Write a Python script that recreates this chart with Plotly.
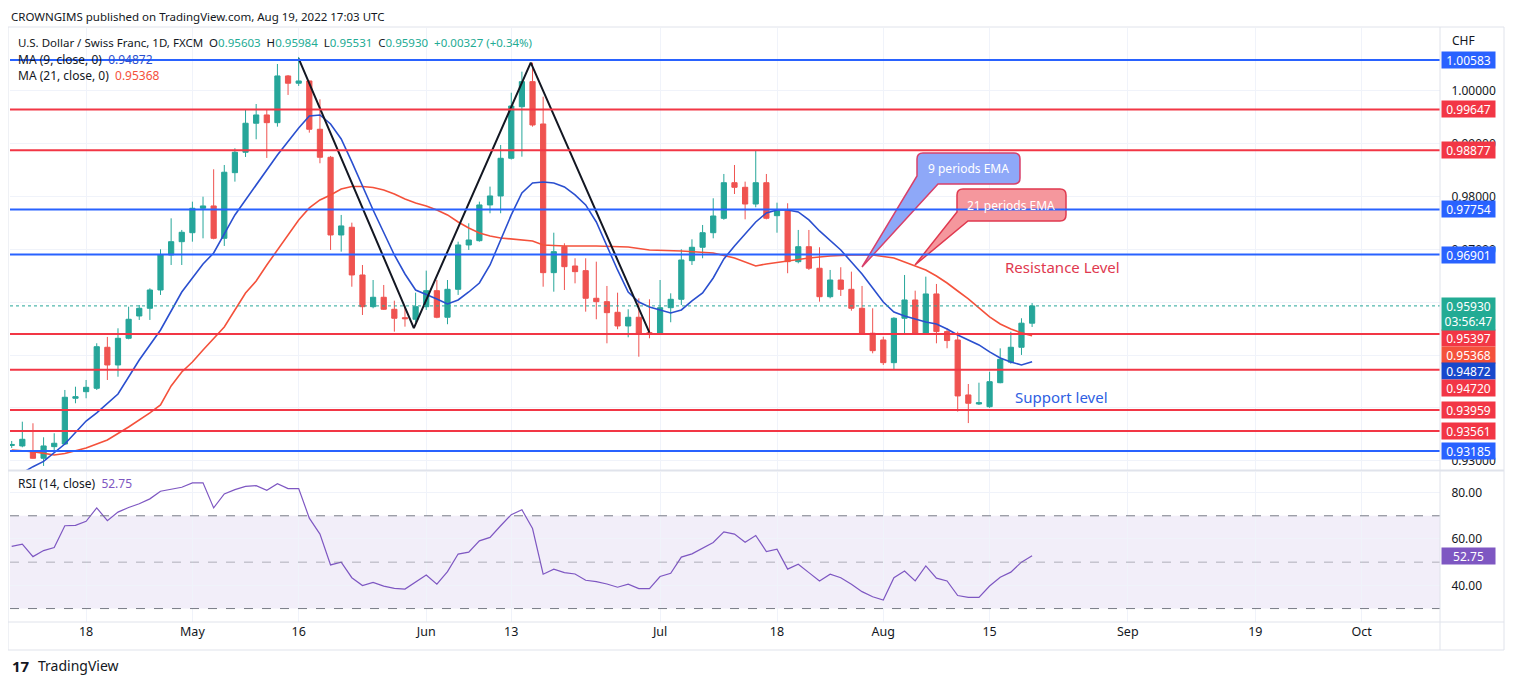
import pandas as pd
import plotly.graph_objects as go

# daily USDCHF candles, Apr 7 - Aug 19 2022 (weekdays)
dates = pd.bdate_range("2022-04-07", "2022-08-19")
open_ = [0.93289, 0.93280, 0.93172, 0.93047, 0.93267, 0.93317, 0.94182, 0.94307, 0.94371, 0.95147,
         0.94812, 0.95317, 0.95739, 0.95885, 0.96231, 0.96893, 0.97145, 0.97315, 0.97777, 0.97821,
         0.97209, 0.98451, 0.98837, 0.99386, 0.99543, 0.99397, 1.00281, 1.00143, 1.00186, 0.99272,
         0.98742, 0.97272, 0.97418, 0.96515, 0.95915, 0.96093, 0.95866, 0.95707, 0.95677, 0.95915,
         0.96218, 0.95715, 0.96244, 0.97083, 0.97164, 0.97840, 0.98010, 0.98723, 0.99699, 1.00173,
         0.99372, 0.96559, 0.97050, 0.96685, 0.96597, 0.96074, 0.96010, 0.95809, 0.95550, 0.95715,
         0.95424, 0.95413, 0.95896, 0.96055, 0.96786, 0.97039, 0.97315, 0.97587, 0.98261, 0.98174,
         0.97858, 0.98261, 0.97637, 0.97726, 0.96767, 0.97050, 0.96642, 0.96104, 0.96420, 0.96244,
         0.95885, 0.95413, 0.95285, 0.94856, 0.95696, 0.96042, 0.95413, 0.96156, 0.95444, 0.95285,
         0.94245, 0.94074, 0.94023, 0.94477, 0.94866, 0.95147, 0.95603]
high = [0.93374, 0.93739, 0.93709, 0.93444, 0.93520, 0.94339, 0.94401, 0.94528, 0.95223, 0.95343,
        0.95506, 0.95915, 0.95947, 0.96263, 0.97001, 0.97587, 0.97367, 0.97902, 0.97996, 0.98515,
        0.98596, 0.98912, 0.99637, 0.99750, 0.99637, 1.00507, 1.00299, 1.00640, 1.00192, 0.99839,
        0.98767, 0.97651, 0.97505, 0.96704, 0.96420, 0.96326, 0.96029, 0.95915, 0.96180, 0.96597,
        0.96420, 0.96420, 0.97145, 0.97493, 0.97902, 0.98187, 0.98975, 0.99964, 1.00362, 1.00532,
        0.99888, 0.97315, 0.97114, 0.96831, 0.96831, 0.96767, 0.96307, 0.96180, 0.95866, 0.96074,
        0.96055, 0.96420, 0.96168, 0.97001, 0.97190, 0.97461, 0.97966, 0.98426, 0.98596, 0.98281,
        0.98877, 0.98426, 0.97883, 0.97872, 0.97367, 0.97367, 0.97039, 0.96610, 0.96661, 0.96578,
        0.96307, 0.95885, 0.95348, 0.95715, 0.96515, 0.96218, 0.96483, 0.96345, 0.95507, 0.95442,
        0.94452, 0.94477, 0.94685, 0.95127, 0.95442, 0.95696, 0.95984]
low = [0.93242, 0.93255, 0.93040, 0.92902, 0.93204, 0.93299, 0.94088, 0.94182, 0.94339, 0.94528,
       0.94590, 0.95298, 0.95664, 0.95664, 0.96137, 0.96704, 0.96704, 0.97145, 0.97209, 0.97190,
       0.97064, 0.98281, 0.98748, 0.99083, 0.98729, 0.99321, 0.99921, 1.00092, 0.99208, 0.98629,
       0.96988, 0.96956, 0.96293, 0.95758, 0.95885, 0.95853, 0.95443, 0.95537, 0.95620, 0.95853,
       0.95696, 0.95583, 0.96137, 0.96988, 0.97145, 0.97683, 0.97683, 0.98700, 0.98753, 0.99321,
       0.96293, 0.96199, 0.96231, 0.96357, 0.95821, 0.95677, 0.95222, 0.95488, 0.95336, 0.94969,
       0.95317, 0.95400, 0.95620, 0.95947, 0.96704, 0.96831, 0.97209, 0.97560, 0.98047, 0.97568,
       0.97796, 0.97568, 0.97315, 0.96548, 0.96736, 0.96610, 0.96010, 0.96074, 0.96118, 0.95839,
       0.95400, 0.95033, 0.94812, 0.94717, 0.95413, 0.95400, 0.95381, 0.95222, 0.95128, 0.93930,
       0.93713, 0.94055, 0.94000, 0.94466, 0.94834, 0.95002, 0.95531]
close = [0.93308, 0.93406, 0.93047, 0.93280, 0.93331, 0.94201, 0.94212, 0.94390, 0.95158, 0.94812,
         0.95317, 0.95677, 0.95885, 0.96231, 0.96893, 0.97145, 0.97323, 0.97777, 0.97821, 0.97209,
         0.98459, 0.98837, 0.99386, 0.99543, 0.99397, 1.00281, 1.00143, 1.00186, 0.99272, 0.98742,
         0.97272, 0.97443, 0.96515, 0.95915, 0.96093, 0.95866, 0.95696, 0.95688, 0.95915, 0.96218,
         0.95715, 0.96244, 0.97083, 0.97177, 0.97840, 0.98010, 0.98723, 0.99712, 1.00173, 0.99353,
         0.96559, 0.96956, 0.96672, 0.96578, 0.96074, 0.96010, 0.95802, 0.95550, 0.95715, 0.95413,
         0.95400, 0.95896, 0.96055, 0.96799, 0.97039, 0.97315, 0.97631, 0.98261, 0.98174, 0.97858,
         0.98261, 0.97588, 0.97726, 0.96767, 0.97050, 0.96642, 0.96104, 0.96420, 0.96244, 0.95885,
         0.95413, 0.95083, 0.94856, 0.95696, 0.96042, 0.95413, 0.96156, 0.95444, 0.95274, 0.94226,
         0.94088, 0.94099, 0.94496, 0.94919, 0.95147, 0.95603, 0.95930]

# moving averages (bar index -> value)
ma9_idx = [1, 2, 3, 5, 7, 8, 10, 12, 14, 16, 18, 19, 21, 23, 25, 27, 28, 29, 30, 31,
           32, 34, 36, 37, 38, 40, 41, 42, 43, 44, 45, 46, 47, 48, 49, 50, 51, 52, 53, 54,
           55, 56, 57, 58, 59, 60, 61, 62, 63, 64, 65, 66, 67, 68, 70, 71, 72, 73, 74, 75,
           76, 77, 78, 79, 80, 81, 82, 83, 84, 85, 86, 87, 88, 89, 90, 91, 92, 93, 94, 95, 96]
ma9_val = [0.92770, 0.92888, 0.92987, 0.93317, 0.93752, 0.93904, 0.94263, 0.94906, 0.95474, 0.96193,
           0.96723, 0.96931, 0.97651, 0.98218, 0.98786, 0.99297, 0.99523, 0.99542, 0.99372, 0.99089,
           0.98654, 0.97745, 0.96893, 0.96534, 0.96231, 0.96061, 0.95966, 0.96042, 0.96193, 0.96363,
           0.96704, 0.97177, 0.97651, 0.98067, 0.98256, 0.98275, 0.98256, 0.98180, 0.98029, 0.97840,
           0.97518, 0.97064, 0.96610, 0.96193, 0.96004, 0.95909, 0.95853, 0.95796, 0.95853, 0.96023,
           0.96174, 0.96458, 0.96818, 0.97064, 0.97518, 0.97688, 0.97745, 0.97745, 0.97707, 0.97556,
           0.97348, 0.97177, 0.96988, 0.96761, 0.96534, 0.96269, 0.96004, 0.95815, 0.95739, 0.95683,
           0.95626, 0.95588, 0.95494, 0.95380, 0.95285, 0.95191, 0.95059, 0.94945, 0.94870, 0.94812,
           0.94872]
ma21_idx = [0, 2, 4, 5, 7, 9, 11, 13, 14, 15, 16, 17, 18, 20, 22, 23, 24, 25, 26, 27,
            28, 29, 30, 31, 32, 33, 34, 35, 36, 37, 38, 39, 40, 41, 42, 43, 44, 45, 46, 47,
            48, 49, 50, 52, 55, 58, 60, 63, 66, 68, 70, 71, 73, 75, 77, 79, 81, 83, 84, 85,
            86, 87, 88, 89, 90, 91, 92, 93, 94, 95, 96]
ma21_val = [0.93204, 0.93172, 0.93109, 0.93138, 0.93242, 0.93393, 0.93639, 0.93904, 0.94055, 0.94415,
            0.94679, 0.94868, 0.95096, 0.95531, 0.96174, 0.96401, 0.96704, 0.96988, 0.97272, 0.97556,
            0.97783, 0.97934, 0.98029, 0.98143, 0.98190, 0.98190, 0.98171, 0.98124, 0.98048, 0.97953,
            0.97878, 0.97821, 0.97745, 0.97651, 0.97518, 0.97405, 0.97310, 0.97253, 0.97215, 0.97196,
            0.97177, 0.97158, 0.97083, 0.97064, 0.97064, 0.97045, 0.96988, 0.96969, 0.96931, 0.96837,
            0.96685, 0.96723, 0.96780, 0.96837, 0.96874, 0.96893, 0.96893, 0.96837, 0.96761, 0.96685,
            0.96610, 0.96496, 0.96363, 0.96212, 0.96061, 0.95891, 0.95721, 0.95588, 0.95494, 0.95419,
            0.95368]

rsi = [56.8, 57.8, 52.4, 55.0, 56.3, 65.7, 65.9, 67.6, 73.4, 67.9,
       71.6, 73.6, 75.2, 77.3, 80.6, 81.6, 82.3, 84.2, 84.2, 73.4,
       79.4, 81.3, 82.7, 83.0, 81.0, 83.8, 81.7, 81.7, 69.0, 62.1,
       48.8, 50.0, 43.3, 39.9, 41.3, 39.7, 38.7, 38.4, 41.3, 44.5,
       40.5, 45.9, 53.5, 54.3, 59.2, 60.7, 65.7, 70.5, 72.6, 64.5,
       44.8, 47.0, 45.5, 44.9, 42.2, 41.6, 40.6, 39.2, 40.5, 38.6,
       38.6, 43.8, 45.2, 52.2, 53.6, 56.0, 58.5, 63.1, 62.1, 58.6,
       61.5, 54.6, 55.6, 47.0, 49.1, 45.5, 41.9, 44.8, 43.3, 40.5,
       37.3, 35.1, 33.7, 43.3, 46.2, 41.9, 48.4, 43.1, 41.9, 35.6,
       34.8, 34.8, 39.7, 43.5, 45.7, 50.0, 52.75]

# double top drawing
pattern_x = ["2022-05-16", "2022-05-30 20:00", "2022-06-14 20:00", "2022-06-30"]
pattern_y = [1.00610, 0.95511, 1.00532, 0.95424]

blue_levels = [1.00583, 0.97754, 0.96901, 0.93185]
red_levels = [0.99647, 0.98877, 0.95397, 0.94720, 0.93959, 0.93561]

tick_dates = ["2022-04-18", "2022-05-02", "2022-05-16", "2022-06-01", "2022-06-13", "2022-07-01",
              "2022-07-18", "2022-08-01", "2022-08-15", "2022-09-01", "2022-09-19", "2022-10-03"]
tick_text = ["18", "May", "16", "Jun", "13", "Jul", "18", "Aug", "15", "Sep", "19", "Oct"]
price_ticks = [0.93, 0.94, 0.95, 0.96, 0.97, 0.98, 0.99, 1.00]
# labels hidden behind the level tags are left blank
price_tick_text = ["0.93000", "", "", "", "0.97000", "0.98000", "0.99000", "1.00000"]
rsi_ticks = [40, 60, 80]

FONT = "Noto Sans"
TXT = "#131722"
UP = "#26a69a"
DOWN = "#ef5350"
BLUE = "#2962ff"
RED = "#f23645"
MA9_C = "#2a4fcf"
MA21_C = "#f4513b"
RSI_C = "#7e57c2"

# the page body adds an 8px offset, so the figure is drawn 8px smaller
OFF = 8
W, H = 1514 - OFF, 685 - OFF
X0, X1, Y0, Y1 = 10, 1440, 28, 622          # plot area in page pixels
PW, PH = X1 - X0, Y1 - Y0


def px(x):
    return (x - X0) / PW


def py(y):
    return (Y1 - y) / PH


fig = go.Figure()

fig.add_trace(go.Candlestick(
    x=dates, open=open_, high=high, low=low, close=close,
    increasing=dict(line=dict(color=UP, width=1), fillcolor=UP),
    decreasing=dict(line=dict(color=DOWN, width=1), fillcolor=DOWN),
    whiskerwidth=0, hoverinfo="skip", showlegend=False))

fig.add_trace(go.Scatter(x=[dates[i] for i in ma21_idx], y=ma21_val, mode="lines",
                         line=dict(color=MA21_C, width=1.6), hoverinfo="skip", showlegend=False))
fig.add_trace(go.Scatter(x=[dates[i] for i in ma9_idx], y=ma9_val, mode="lines",
                         line=dict(color=MA9_C, width=1.6), hoverinfo="skip", showlegend=False))
fig.add_trace(go.Scatter(x=pattern_x, y=pattern_y, mode="lines",
                         line=dict(color="#131722", width=2), hoverinfo="skip", showlegend=False))

fig.add_trace(go.Scatter(x=dates, y=rsi, mode="lines", yaxis="y2",
                         line=dict(color=RSI_C, width=1.2), hoverinfo="skip", showlegend=False))

shapes = []


def callout(box, base1, tip, base2, r=6):
    x0, y0, x1, y1 = box
    pts = [("M", x0 + r, y0), ("L", x1 - r, y0), ("Q", x1, y0, x1, y0 + r), ("L", x1, y1 - r),
           ("Q", x1, y1, x1 - r, y1), ("L",) + base1, ("L",) + tip, ("L",) + base2,
           ("L", x0, y0 + r), ("Q", x0, y0, x0 + r, y0)]
    out = []
    for p in pts:
        nums = p[1:]
        seg = " ".join(f"{px(nums[k]):.5f},{py(nums[k + 1]):.5f}" for k in range(0, len(nums), 2))
        out.append(f"{p[0]} {seg}")
    return " ".join(out) + " Z"


# callout boxes
shapes.append(dict(type="path", xref="paper", yref="paper", layer="above",
                   path=callout((917, 153, 1020, 184), (938, 184), (862, 267), (917, 176)),
                   fillcolor="#8ea8f8", line=dict(color="#d8406a", width=1.5)))
shapes.append(dict(type="path", xref="paper", yref="paper", layer="above",
                   path=callout((957, 189, 1066, 221), (968, 221), (915, 265), (957, 212)),
                   fillcolor="#f5979d", line=dict(color="#e0394f", width=1.5)))

# horizontal levels
for v in blue_levels:
    shapes.append(dict(type="line", xref="paper", x0=0, x1=1, yref="y", y0=v, y1=v,
                       layer="above", line=dict(color=BLUE, width=2)))
for v in red_levels:
    shapes.append(dict(type="line", xref="paper", x0=0, x1=1, yref="y", y0=v, y1=v,
                       layer="above", line=dict(color=RED, width=2)))

# last price dotted line
shapes.append(dict(type="line", xref="paper", x0=0, x1=1, yref="y", y0=close[-1], y1=close[-1],
                   line=dict(color=UP, width=1, dash="dot")))

# RSI band and levels
shapes.append(dict(type="rect", xref="paper", x0=0, x1=1, yref="y2", y0=30, y1=70,
                   fillcolor="rgba(126,87,194,0.10)", line=dict(width=0), layer="below"))
for v, c in [(70, "#787b86"), (50, "rgba(120,123,134,0.55)"), (30, "#787b86")]:
    shapes.append(dict(type="line", xref="paper", x0=0, x1=1, yref="y2", y0=v, y1=v,
                       line=dict(color=c, width=1, dash="dash")))

# frame
border = "#e0e3eb"
shapes.append(dict(type="rect", xref="paper", yref="paper", x0=px(8), x1=px(1504), y0=py(650), y1=py(27),
                   line=dict(color=border, width=1)))
shapes.append(dict(type="line", xref="paper", yref="paper", x0=px(1440), x1=px(1440), y0=py(650), y1=py(27),
                   line=dict(color=border, width=1)))
shapes.append(dict(type="line", xref="paper", yref="paper", x0=px(8), x1=px(1504), y0=py(470.5), y1=py(470.5),
                   line=dict(color=border, width=2)))
shapes.append(dict(type="line", xref="paper", yref="paper", x0=px(8), x1=px(1504), y0=py(622), y1=py(622),
                   line=dict(color=border, width=1)))

ann = []


def text(x, y, s, size=12.5, color=TXT, anchor="left", pad=1):
    ann.append(dict(x=px(x), y=py(y), xref="paper", yref="paper", text=s, showarrow=False,
                    xanchor=anchor, yanchor="middle", borderpad=pad,
                    font=dict(family=FONT, size=size, color=color)))


text(10, 16, "CROWNGIMS published on TradingView.com, Aug 19, 2022 17:03 UTC", size=11.5, pad=0)

chg = close[-1] - close[-2]
pct = chg / close[-2] * 100
G = "#22ab94"
sp = "&nbsp;&nbsp;"
hdr = ("U.S. Dollar / Swiss Franc, 1D, FXCM" + sp +
       f"O<span style='color:{G}'>{open_[-1]:.5f}</span>{sp}"
       f"H<span style='color:{G}'>{high[-1]:.5f}</span>{sp}"
       f"L<span style='color:{G}'>{low[-1]:.5f}</span>{sp}"
       f"C<span style='color:{G}'>{close[-1]:.5f}</span>{sp}"
       f"<span style='color:{G}'>{chg:+.5f} ({pct:+.2f}%)</span>")
text(16, 42, hdr, size=11.5)
text(16, 59, f"MA (9, close, 0)&nbsp;&nbsp;<span style='color:{MA9_C}'>{ma9_val[-1]:.5f}</span>", size=12)
text(16, 76, f"MA (21, close, 0)&nbsp;&nbsp;<span style='color:{MA21_C}'>{ma21_val[-1]:.5f}</span>", size=12)
text(16, 483, f"RSI (14, close)&nbsp;&nbsp;<span style='color:{RSI_C}'>{rsi[-1]:.2f}</span>", size=12)
text(1450, 41, "CHF", size=12)

text(968, 168.5, "9 periods EMA", size=12, color="white", anchor="center")
text(1011, 205, "21 periods EMA", size=12, color="white", anchor="center")
text(1003, 267, "Resistance Level", size=15, color="#e0394f")
text(1013, 397, "Support level", size=15, color="#2e5ee2")

text(10, 666, "<b>17</b>", size=15)
text(36, 666, "TradingView", size=14)


def price_label(v, color, shift=0, yref="y", fmt="{:.5f}"):
    ann.append(dict(x=px(1441), y=v, xref="paper", yref=yref, text=fmt.format(v), showarrow=False,
                    xanchor="left", yanchor="middle", yshift=shift, bgcolor=color, width=51, height=14,
                    borderpad=1, align="center", font=dict(family=FONT, size=12, color="white")))


for v in blue_levels:
    price_label(v, BLUE)
price_label(0.99647, RED)
price_label(0.98877, RED)
price_label(0.95397, RED, -4)
price_label(ma21_val[-1], MA21_C, -19)
price_label(ma9_val[-1], "#1848cc", -9)
price_label(0.94720, RED, -18)
price_label(0.93959, RED)
price_label(0.93561, RED)
price_label(rsi[-1], RSI_C, 0, "y2", "{:.2f}")
ann.append(dict(x=px(1441), y=close[-1], xref="paper", yref="y",
                text=f"{close[-1]:.5f}<br>03:56:47", showarrow=False,
                xanchor="left", yanchor="top", yshift=9, bgcolor=G, width=51, height=30,
                borderpad=1, align="center", font=dict(family=FONT, size=12, color="white")))

fig.update_layout(
    width=W, height=H,
    margin=dict(l=X0 - OFF, r=W - (X1 - OFF), t=Y0 - OFF, b=H - (Y1 - OFF)),
    paper_bgcolor="white", plot_bgcolor="white",
    font=dict(family=FONT, size=12, color=TXT),
    showlegend=False, shapes=shapes, annotations=ann,
    xaxis=dict(anchor="y2", range=["2022-04-06 20:10", "2022-10-12 09:00"],
               rangebreaks=[dict(bounds=["sat", "mon"])], rangeslider=dict(visible=False),
               tickvals=tick_dates, ticktext=tick_text, showgrid=True, gridcolor="#f0f3fa",
               ticks="", showline=False, zeroline=False, tickfont=dict(size=12.5)),
    yaxis=dict(domain=[py(470), 1], range=[0.92825, 1.01188], side="right", anchor="x",
               tickvals=price_ticks, ticktext=price_tick_text, showgrid=True, gridcolor="#f0f3fa",
               ticks="outside", ticklen=8, tickcolor="rgba(0,0,0,0)", zeroline=False,
               tickfont=dict(size=12)),
    yaxis2=dict(domain=[0, py(471.5)], range=[24.2, 89.1], side="right", anchor="x",
                tickvals=rsi_ticks, tickformat=".2f", showgrid=True, gridcolor="#f0f3fa",
                ticks="outside", ticklen=8, tickcolor="rgba(0,0,0,0)", zeroline=False,
                tickfont=dict(size=12)),
)

fig.write_html("out.html")
